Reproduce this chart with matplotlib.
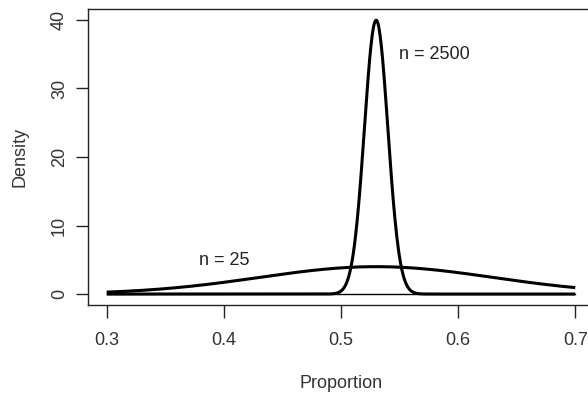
import numpy as np
import matplotlib
matplotlib.use("Agg")
import matplotlib.pyplot as plt

# Sampling distributions of a proportion (p = 0.53) for two sample sizes
p_hat = 0.53
sample_sizes = [25, 2500]
labels = ["n = 25", "n = 2500"]
label_pos = [(0.40, 4.9), (0.58, 35.0)]
x_range = (0.3, 0.7)
x_ticks = [0.3, 0.4, 0.5, 0.6, 0.7]
y_ticks = [0, 10, 20, 30, 40]

plt.rcParams.update({"font.family": ["Liberation Sans", "DejaVu Sans"], "font.size": 13})

fig = plt.figure(figsize=(5.88, 3.93), dpi=100)
ax = fig.add_axes([88 / 588, 88 / 393, 506 / 588, 296 / 393])

x = np.linspace(x_range[0], x_range[1], 801)
for n in sample_sizes:
    sd = np.sqrt(p_hat * (1 - p_hat) / n)
    dens = np.exp(-0.5 * ((x - p_hat) / sd) ** 2) / (sd * np.sqrt(2 * np.pi))
    ax.plot(x, dens, color="black", lw=2.2, solid_capstyle="butt")
ax.plot(x_range, [0, 0], color="black", lw=1)

for lab, (tx, ty) in zip(labels, label_pos):
    ax.text(tx, ty, lab, ha="center", va="center", color="#222222")

ax.set_xlim(0.284, 0.716)
ax.set_ylim(-1.6, 41.6)
ax.set_xticks(x_ticks)
ax.set_xticklabels([f"{t:.1f}" for t in x_ticks])
ax.set_yticks(y_ticks)
ax.set_yticklabels([str(t) for t in y_ticks], rotation=90, va="center")
ax.tick_params(length=9, width=1, colors="#222222", labelcolor="#333333")
ax.tick_params(axis="x", pad=10.5)
ax.tick_params(axis="y", pad=5.5)
for s in ax.spines.values():
    s.set_color("#222222")
    s.set_linewidth(1)

ax.set_xlabel("Proportion", color="#333333", labelpad=19)
ax.set_ylabel("Density", color="#333333", labelpad=16)

fig.savefig("out.png", dpi=100)
